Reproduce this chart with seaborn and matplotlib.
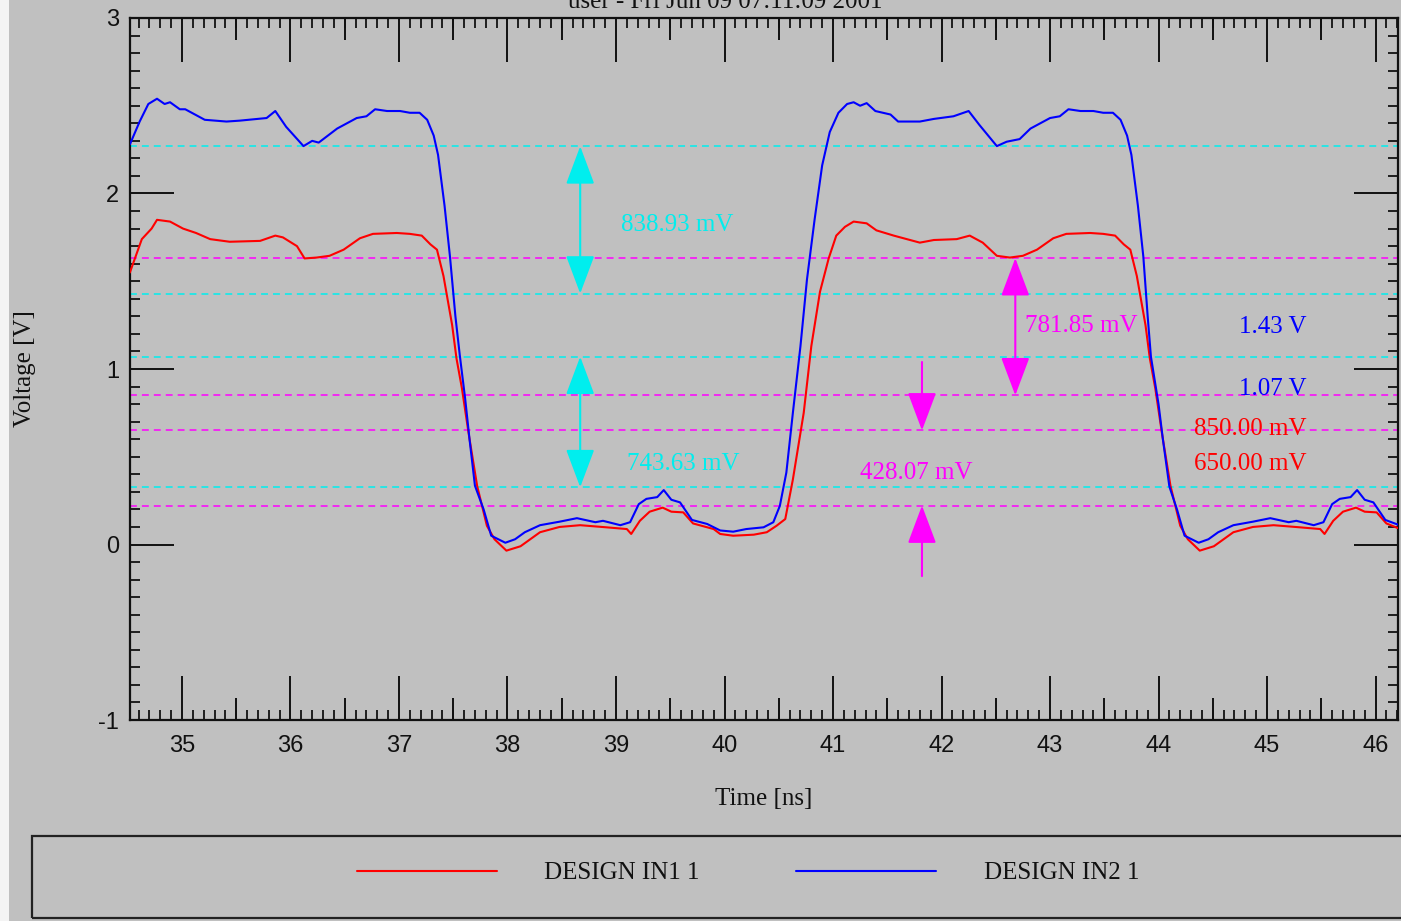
import matplotlib
matplotlib.use('Agg')
import numpy as np
import pandas as pd
import matplotlib.pyplot as plt
from matplotlib.lines import Line2D
from matplotlib.patches import Rectangle
from matplotlib.ticker import MultipleLocator
import seaborn as sns

# waveform samples (time in ns, level in V)
in1_time = [34.52, 34.63, 34.72, 34.77, 34.89, 35.01, 35.13, 35.26, 35.44, 35.72,
            35.86, 35.93, 36.06, 36.13, 36.24, 36.36, 36.49, 36.64, 36.76, 36.98,
            37.10, 37.21, 37.29, 37.35, 37.41, 37.49, 37.53, 37.58, 37.64, 37.72,
            37.81, 37.88, 37.99, 38.12, 38.30, 38.48, 38.67, 38.91, 39.10, 39.14,
            39.22, 39.31, 39.43, 39.51, 39.62, 39.71, 39.90, 39.96, 40.08, 40.27,
            40.39, 40.48, 40.56, 40.63, 40.73, 40.80, 40.88, 40.96, 41.03, 41.11,
            41.19, 41.31, 41.40, 41.56, 41.68, 41.80, 41.93, 42.14, 42.26, 42.38,
            42.51, 42.63, 42.75, 42.88, 43.03, 43.15, 43.37, 43.49, 43.60, 43.68,
            43.74, 43.80, 43.88, 43.92, 43.97, 44.03, 44.11, 44.20, 44.27, 44.38,
            44.51, 44.69, 44.87, 45.06, 45.30, 45.49, 45.53, 45.61, 45.70, 45.82,
            45.90, 46.01, 46.10, 46.22]
in1_volt = [1.55, 1.74, 1.80, 1.85, 1.84, 1.80, 1.775, 1.74, 1.725, 1.73,
            1.76, 1.75, 1.70, 1.63, 1.635, 1.645, 1.68, 1.745, 1.77, 1.775,
            1.77, 1.76, 1.71, 1.68, 1.53, 1.25, 1.06, 0.89, 0.64, 0.335,
            0.107, 0.03, -0.035, -0.01, 0.07, 0.10, 0.11, 0.098, 0.088, 0.06,
            0.135, 0.187, 0.21, 0.187, 0.183, 0.12, 0.088, 0.06, 0.05, 0.056,
            0.07, 0.107, 0.145, 0.37, 0.75, 1.13, 1.44, 1.63, 1.76, 1.81,
            1.84, 1.83, 1.79, 1.76, 1.74, 1.72, 1.735, 1.74, 1.76, 1.72,
            1.645, 1.635, 1.645, 1.68, 1.745, 1.77, 1.775, 1.77, 1.76, 1.71,
            1.68, 1.53, 1.25, 1.06, 0.89, 0.64, 0.335, 0.107, 0.03, -0.035,
            -0.01, 0.07, 0.10, 0.11, 0.098, 0.088, 0.06, 0.135, 0.187, 0.21,
            0.187, 0.183, 0.12, 0.09]

in2_time = [34.52, 34.61, 34.69, 34.77, 34.84, 34.89, 34.98, 35.03, 35.21, 35.41,
            35.53, 35.78, 35.86, 35.96, 36.12, 36.20, 36.26, 36.43, 36.61, 36.70,
            36.78, 36.89, 37.01, 37.10, 37.19, 37.26, 37.32, 37.36, 37.42, 37.47,
            37.52, 37.56, 37.61, 37.65, 37.70, 37.78, 37.85, 37.98, 38.07, 38.16,
            38.30, 38.48, 38.64, 38.81, 38.88, 39.04, 39.13, 39.21, 39.28, 39.38,
            39.44, 39.51, 39.59, 39.70, 39.84, 39.96, 40.08, 40.20, 40.36, 40.45,
            40.51, 40.57, 40.63, 40.70, 40.76, 40.83, 40.90, 40.97, 41.05, 41.13,
            41.19, 41.25, 41.31, 41.39, 41.53, 41.60, 41.80, 41.93, 42.11, 42.25,
            42.35, 42.51, 42.60, 42.72, 42.82, 43.00, 43.09, 43.17, 43.28, 43.40,
            43.49, 43.58, 43.65, 43.71, 43.75, 43.81, 43.86, 43.90, 43.93, 44.00,
            44.04, 44.10, 44.17, 44.24, 44.37, 44.46, 44.55, 44.69, 44.87, 45.03,
            45.20, 45.27, 45.43, 45.52, 45.60, 45.67, 45.77, 45.83, 45.90, 45.98,
            46.09, 46.22]
in2_volt = [2.28, 2.41, 2.51, 2.54, 2.51, 2.52, 2.48, 2.48, 2.42, 2.41,
            2.415, 2.43, 2.47, 2.38, 2.27, 2.30, 2.29, 2.37, 2.43, 2.44,
            2.48, 2.47, 2.47, 2.46, 2.46, 2.42, 2.33, 2.22, 1.93, 1.64,
            1.30, 1.08, 0.83, 0.60, 0.335, 0.20, 0.05, 0.01, 0.03, 0.07,
            0.11, 0.13, 0.15, 0.127, 0.135, 0.11, 0.127, 0.23, 0.26, 0.27,
            0.31, 0.255, 0.24, 0.14, 0.117, 0.08, 0.073, 0.088, 0.098, 0.127,
            0.22, 0.41, 0.75, 1.13, 1.51, 1.85, 2.16, 2.35, 2.46, 2.51,
            2.52, 2.50, 2.515, 2.47, 2.45, 2.41, 2.41, 2.425, 2.44, 2.47,
            2.39, 2.27, 2.295, 2.31, 2.37, 2.43, 2.44, 2.48, 2.47, 2.47,
            2.46, 2.46, 2.42, 2.33, 2.22, 1.93, 1.64, 1.30, 1.07, 0.80,
            0.60, 0.33, 0.20, 0.05, 0.01, 0.03, 0.07, 0.11, 0.13, 0.15,
            0.127, 0.135, 0.11, 0.127, 0.23, 0.26, 0.27, 0.31, 0.255, 0.24,
            0.14, 0.11]

signal_names = ['DESIGN IN1 1', 'DESIGN IN2 1']
signal_colors = ['#ff0000', '#0000ff']

# switching thresholds and the measured swings past them
in2_thresholds = [1.43, 1.07]
in2_swings = [0.83893, 0.74363]
in1_thresholds = [0.85, 0.65]
in1_swings = [0.78185, 0.42807]

title_text = 'user - Fri Jun 09 07:11:09 2001'

BG = '#c0c0c0'
CYAN = '#00eeee'
MAGENTA = '#ff00ff'
TICK_FONT = 'Liberation Sans'
SERIF = 'Liberation Serif'
FS = 18

df = pd.concat([
    pd.DataFrame({'time': in1_time, 'volt': in1_volt, 'signal': signal_names[0]}),
    pd.DataFrame({'time': in2_time, 'volt': in2_volt, 'signal': signal_names[1]}),
])

sns.set_style('ticks')
plt.rcParams['axes.facecolor'] = BG
plt.rcParams['figure.facecolor'] = BG
plt.rcParams['axes.unicode_minus'] = False

fig = plt.figure(figsize=(14.01, 9.21), dpi=100)
ax = fig.add_axes([130 / 1401, 1 - 720 / 921, 1268 / 1401, 702 / 921])
ax.set_facecolor(BG)

# level lines
cyan_levels = [in2_thresholds[0] + in2_swings[0], in2_thresholds[0],
               in2_thresholds[1], in2_thresholds[1] - in2_swings[1]]
magenta_levels = [in1_thresholds[0] + in1_swings[0], in1_thresholds[0],
                  in1_thresholds[1], in1_thresholds[1] - in1_swings[1]]
for lv in cyan_levels:
    ax.axhline(lv, color=CYAN, lw=1.1, ls=(0, (4.5, 3.3)), zorder=1)
for lv in magenta_levels:
    ax.axhline(lv, color=MAGENTA, lw=1.1, ls=(0, (4.5, 3.3)), zorder=1)

sns.lineplot(data=df, x='time', y='volt', hue='signal', palette=signal_colors,
             estimator=None, sort=False, legend=False, lw=1.5, ax=ax, zorder=3)

# measurement arrows
dbl = '<|-|>,head_length=1.2,head_width=0.45'
sgl = '-|>,head_length=1.2,head_width=0.45'
def arrow(x, y0, y1, color, style):
    ax.annotate('', xy=(x, y1), xytext=(x, y0),
                arrowprops=dict(arrowstyle=style, mutation_scale=20, color=color,
                                lw=1.5, shrinkA=0, shrinkB=0), zorder=4)

arrow(38.67, cyan_levels[1], cyan_levels[0], CYAN, dbl)
arrow(38.67, cyan_levels[3], cyan_levels[2], CYAN, dbl)
arrow(42.68, magenta_levels[1], magenta_levels[0], MAGENTA, dbl)
arrow(41.82, 1.04, magenta_levels[2], MAGENTA, sgl)
arrow(41.82, -0.18, magenta_levels[3], MAGENTA, sgl)

tkw = dict(family=SERIF, fontsize=FS, va='center', zorder=5)
ax.text(39.56, 1.82, f'{in2_swings[0] * 1000:.2f} mV', color=CYAN, ha='center', **tkw)
ax.text(39.62, 0.46, f'{in2_swings[1] * 1000:.2f} mV', color=CYAN, ha='center', **tkw)
ax.text(43.29, 1.245, f'{in1_swings[0] * 1000:.2f} mV', color=MAGENTA, ha='center', **tkw)
ax.text(41.77, 0.41, f'{in1_swings[1] * 1000:.2f} mV', color=MAGENTA, ha='center', **tkw)
ax.text(45.36, 1.24, f'{in2_thresholds[0]:.2f} V', color='#0000ff', ha='right', **tkw)
ax.text(45.36, 0.885, f'{in2_thresholds[1]:.2f} V', color='#0000ff', ha='right', **tkw)
ax.text(45.36, 0.66, f'{in1_thresholds[0] * 1000:.2f} mV', color='#ff0000', ha='right', **tkw)
ax.text(45.36, 0.46, f'{in1_thresholds[1] * 1000:.2f} mV', color='#ff0000', ha='right', **tkw)

# axes, ticks
ax.set_xlim(34.521, 46.207)
ax.set_ylim(-1, 3)
ax.xaxis.set_major_locator(MultipleLocator(1))
ax.xaxis.set_minor_locator(MultipleLocator(0.1))
ax.yaxis.set_major_locator(MultipleLocator(1))
ax.yaxis.set_minor_locator(MultipleLocator(0.1))
ax.tick_params(which='both', direction='in', top=True, right=True, color='#111111')
ax.tick_params(which='major', length=32, width=1.4)
ax.tick_params(which='minor', length=7.5, width=1.3)
ax.tick_params(axis='x', which='major', pad=11)
ax.tick_params(axis='y', which='major', pad=8)
for lab in ax.get_xticklabels() + ax.get_yticklabels():
    lab.set_family(TICK_FONT)
    lab.set_fontsize(17)
    lab.set_color('#111111')

halves = np.arange(34.5, 46.6, 1.0)
for side in ['bottom', 'top']:
    sec = ax.secondary_xaxis(side)
    sec.set_xticks(halves)
    sec.tick_params(direction='in', length=16, width=1.4, color='#111111',
                    labelbottom=False, labeltop=False)
    sec.spines[side].set_visible(False)

for sp in ax.spines.values():
    sp.set_linewidth(1.6)
    sp.set_color('#111111')

ax.set_xlabel('Time [ns]', family=SERIF, fontsize=FS, color='#111111')
ax.set_ylabel('Voltage [V]', family=SERIF, fontsize=FS, color='#111111')
ax.xaxis.set_label_coords(0.5, -0.097)
ax.yaxis.set_label_coords(-0.074, 0.5)

fig.text(725 / 1401, 0.998, title_text, family=SERIF, fontsize=FS,
         ha='center', va='center', color='#111111')

# pale strip at the left edge of the screen grab
fig.patches.append(Rectangle((0, 0), 9 / 1401, 1, transform=fig.transFigure,
                             facecolor='#f4f4f4', edgecolor='none', zorder=-1))

# legend panel
fig.patches.append(Rectangle((32 / 1401, 1 - 918 / 921), 0.99, 82 / 921,
                             transform=fig.transFigure, facecolor='none',
                             edgecolor='#222222', lw=1.6))
handles = [Line2D([], [], color=c, lw=1.5) for c in signal_colors]
leg = fig.legend(handles, signal_names, loc='center',
                 bbox_to_anchor=(748 / 1401, 1 - 873 / 921), ncol=2, frameon=False,
                 prop={'family': SERIF, 'size': FS}, handlelength=5.6,
                 handletextpad=1.9, columnspacing=3.85)
for t in leg.get_texts():
    t.set_color('#111111')

fig.savefig('out.png', dpi=100, facecolor=BG)
